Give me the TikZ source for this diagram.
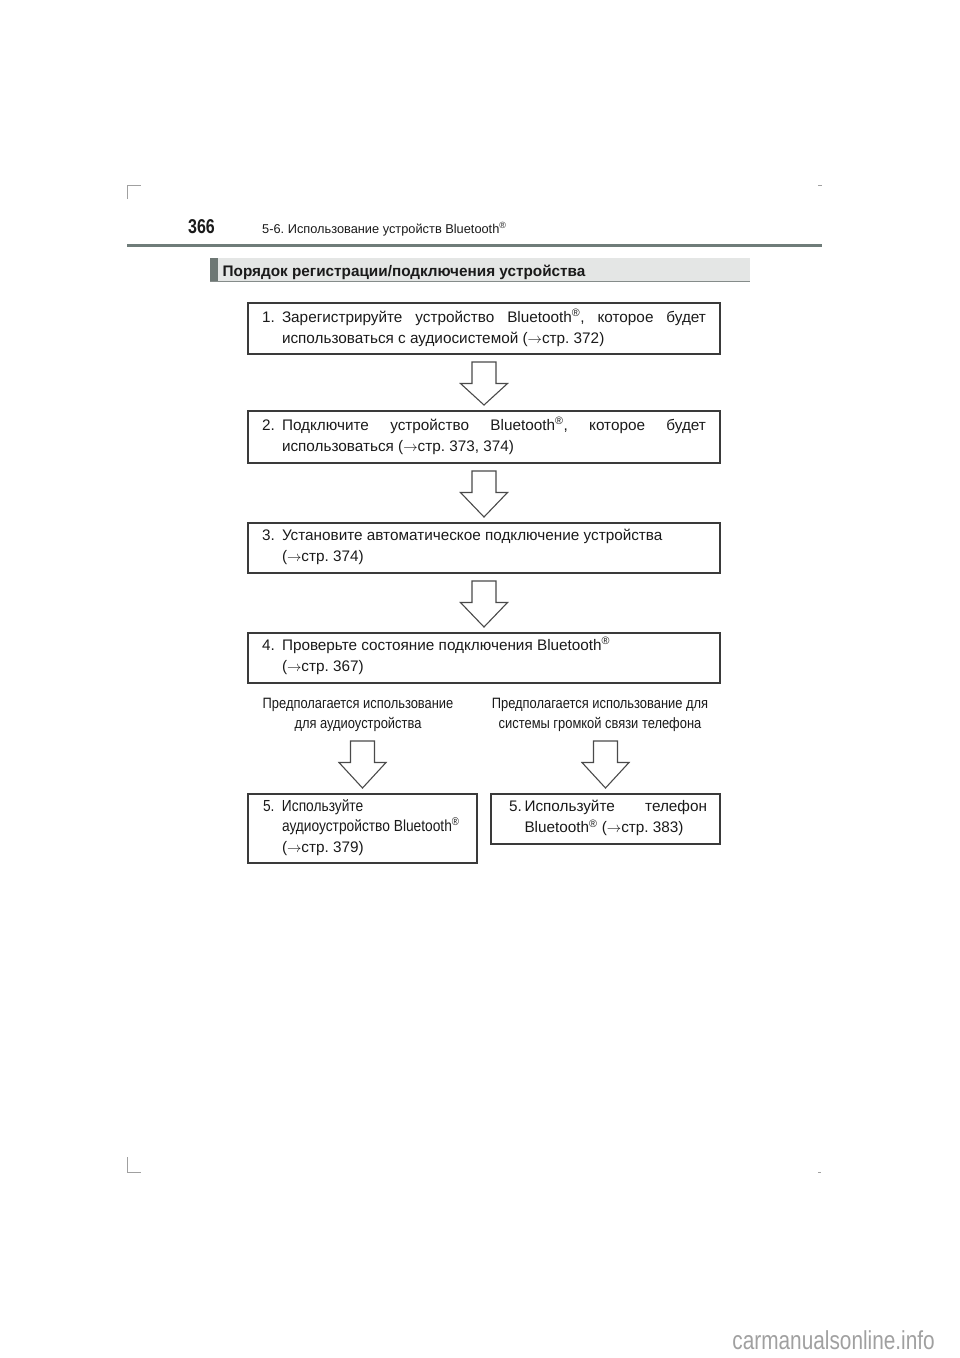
\documentclass[tikz,border=0pt]{standalone}
\usepackage{fontspec}
\setmainfont{Liberation Sans}
\newfontfamily\narrowfont[FakeStretch=0.86]{Liberation Sans}
\newfontfamily\condfont[FakeStretch=0.8]{Liberation Sans}
\newfontfamily\wmfont[FakeStretch=0.8]{Liberation Sans}
\usetikzlibrary{calc}
\definecolor{boxgray}{HTML}{3A3A3A}
\definecolor{arrowgray}{HTML}{4A4A4A}
\definecolor{rulegray}{HTML}{6F7C79}
\definecolor{barfill}{HTML}{E4E6E5}
\definecolor{bardark}{HTML}{6D7774}
\definecolor{barline}{HTML}{858C8A}
\definecolor{markgray}{HTML}{A0A0A0}
\definecolor{textblack}{HTML}{1A1A1A}
\hyphenpenalty=10000
\exhyphenpenalty=10000
\tolerance=10000
\hbadness=10000
\frenchspacing
\newcommand\flowarrow[2]{%
  \draw[blockarrow] let \p1=(#1.south), \p2=(#2.north) in
    (\x2-12pt,\y1-8pt) -- (\x2+12pt,\y1-8pt) -- (\x2+12pt,\y1-29.5pt)
    -- (\x2+23.5pt,\y1-29.5pt) -- (\x2,\y2+6pt) -- (\x2-23.5pt,\y1-29.5pt)
    -- (\x2-12pt,\y1-29.5pt) -- cycle;}
\newcommand\regmark{\textsuperscript{®}}
\newcommand\pgref{$\rightarrow$}
\begin{document}
\begin{tikzpicture}[x=1pt,y=-1pt,
  boxframe/.style={draw=boxgray, line width=1.2pt, rectangle, inner sep=0pt, outer sep=0pt, anchor=north west},
  boxtext/.style={inner sep=0pt, outer sep=0pt, anchor=base west, align=justify, text=textblack,
     font=\frenchspacing\fontsize{15.3}{21.5}\selectfont},
  narrowtext/.style={inner sep=0pt, outer sep=0pt, anchor=base west, align=justify, text=textblack,
     font=\frenchspacing\narrowfont\fontsize{16}{20.8}\selectfont},
  labeltext/.style={inner sep=1pt, anchor=base, align=center, text=textblack,
     font=\narrowfont\fontsize{15}{20}\selectfont},
  blockarrow/.style={draw=arrowgray, line width=1.1pt, fill=white, line join=miter},
  cornermark/.style={draw=markgray, line width=0.8pt}
]
\useasboundingbox (0,0) rectangle (960,1358);

% corner marks
\draw[cornermark] (127,199) -- (127,185) -- (141,185);
\draw[cornermark] (818,185) -- (822,185);
\draw[cornermark] (127,1157) -- (127,1172) -- (141,1172);
\draw[cornermark] (818,1172) -- (821,1172);

% page header
\node[inner sep=0pt, anchor=base west, text=textblack, font=\condfont\bfseries\fontsize{20}{24}\selectfont] (pagenum) at (188,233) {366};
\node[inner sep=0pt, anchor=base west, text=textblack, font=\frenchspacing\fontsize{12.8}{15}\selectfont] (chapter) at (262,233) {5-6. Использование устройств Bluetooth\regmark};
\draw[rulegray, line width=3pt] (127,245.5) -- (822,245.5);

% section bar
\fill[barfill] (210,258) rectangle (750,282);
\fill[bardark] (210,258) rectangle (218,282);
\draw[barline, line width=1.5pt] (210,281.5) -- (750,281.5);
\node[inner sep=0pt, anchor=base west, text=textblack, font=\bfseries\fontsize{15.3}{18}\selectfont] (section) at (222.5,276.7) {Порядок регистрации/подключения устройства};

% step boxes
\node[boxframe, minimum width=472pt, minimum height=51pt] (b1) at (248,303) {};
\node[boxtext, text width=444pt] (t1) at (262,322) {\hangindent=20pt\hangafter=1\noindent\makebox[20pt][l]{1.}Зарегистрируйте устройство Bluetooth\regmark, которое будет\linebreak использоваться с аудиосистемой (\pgref стр. 372)\par};

\node[boxframe, minimum width=472pt, minimum height=52pt] (b2) at (248,411) {};
\node[boxtext, text width=444pt] (t2) at (262,430) {\hangindent=20pt\hangafter=1\noindent\makebox[20pt][l]{2.}Подключите устройство Bluetooth\regmark, которое будет\linebreak использоваться (\pgref стр. 373, 374)\par};

\node[boxframe, minimum width=472pt, minimum height=50pt] (b3) at (248,523) {};
\node[boxtext, text width=444pt] (t3) at (262,540) {\hangindent=20pt\hangafter=1\noindent\makebox[20pt][l]{3.}Установите автоматическое подключение устройства\\(\pgref стр. 374)\par};

\node[boxframe, minimum width=472pt, minimum height=50pt] (b4) at (248,633) {};
\node[boxtext, text width=444pt] (t4) at (262,650) {\hangindent=20pt\hangafter=1\noindent\makebox[20pt][l]{4.}Проверьте состояние подключения Bluetooth\regmark\\(\pgref стр. 367)\par};

% branch labels
\node[labeltext] (l1) at (358,728.7) {Предполагается использование\\для аудиоустройства};
\node[labeltext] (l2) at (600,728.7) {Предполагается использование для\\системы громкой связи телефона};

% final boxes
\node[boxframe, minimum width=229pt, minimum height=69pt] (b5l) at (248,794) {};
\node[narrowtext, text width=200pt] (t5l) at (263,811) {\hangindent=19pt\hangafter=1\noindent\makebox[19pt][l]{5.}Используйте\\аудиоустройство Bluetooth\regmark\\{\normalfont\frenchspacing\fontsize{15.3}{20.8}\selectfont(\pgref стр. 379)}\par};

\node[boxframe, minimum width=229pt, minimum height=50pt] (b5r) at (491,794) {};
\node[boxtext, text width=198pt] (t5r) at (509,811) {\hangindent=15.5pt\hangafter=1\noindent\makebox[15.5pt][l]{5.}Используйте телефон\linebreak Bluetooth\regmark\ (\pgref стр. 383)\par};

% block arrows
\flowarrow{b1}{b2}
\flowarrow{b2}{b3}
\flowarrow{b3}{b4}
\flowarrow{l1}{b5l}
\flowarrow{l2}{b5r}

% watermark
\node[inner sep=0pt, anchor=base east, text=markgray, font=\wmfont\fontsize{26}{30}\selectfont] (wm) at (935,1349) {carmanualsonline.info};
\end{tikzpicture}
\end{document}
